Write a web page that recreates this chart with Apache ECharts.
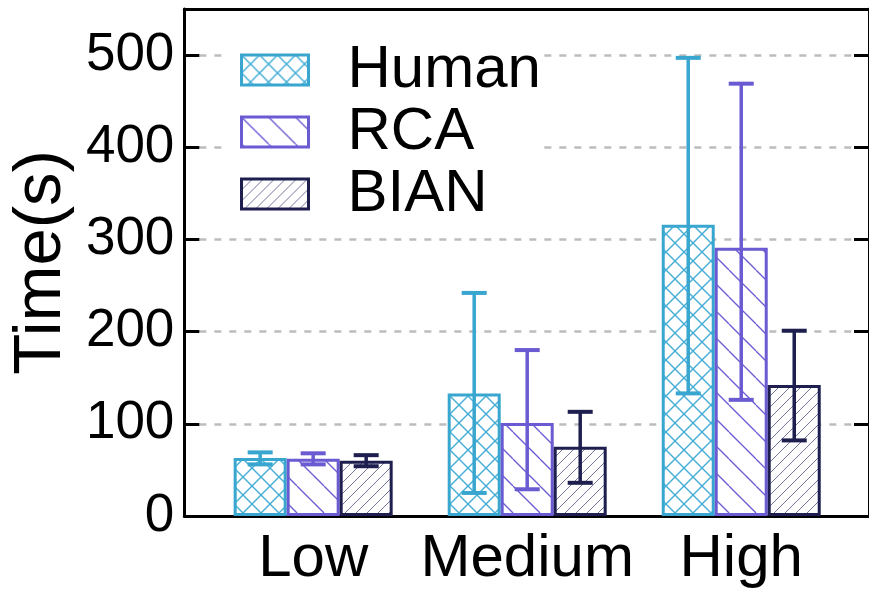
<!DOCTYPE html>
<html>
<head>
<meta charset="utf-8">
<script src="https://cdn.jsdelivr.net/npm/echarts@6.0.0/dist/echarts.min.js"></script>
<style>
  html, body { margin: 0; padding: 0; background: #fff; }
  #chart { width: 869px; height: 590px; }
</style>
</head>
<body>
<div id="chart"></div>
<script>
// 数据
const categories = ['Low', 'Medium', 'High'];
const seriesNames = ['Human', 'RCA', 'BIAN'];
const humanMean = [63, 133, 316];
const humanLow  = [56, 25, 133];
const humanHigh = [69, 242, 497];
const rcaMean = [62, 101, 291];
const rcaLow  = [56, 29, 126];
const rcaHigh = [68, 180, 469];
const bianMean = [60, 75, 142];
const bianLow  = [54, 36, 82];
const bianHigh = [66, 113, 201];

const colors = ['#38a6cf', '#6a5bd2', '#1e1f4f'];
const BAR_W = 53;

// 斜线填充
function hatch(size, lineColor, dirs, lw) {
  const c = document.createElement('canvas');
  c.width = size; c.height = size;
  const ctx = c.getContext('2d');
  ctx.fillStyle = '#fff';
  ctx.fillRect(0, 0, size, size);
  ctx.strokeStyle = lineColor;
  ctx.lineWidth = lw;
  dirs.forEach(d => {
    for (let k = -1; k <= 1; k++) {
      ctx.beginPath();
      if (d === '\\') {
        ctx.moveTo(k * size, 0);
        ctx.lineTo(k * size + size, size);
      } else {
        ctx.moveTo(k * size, size);
        ctx.lineTo(k * size + size, 0);
      }
      ctx.stroke();
    }
  });
  return { image: c, repeat: 'repeat' };
}

const patterns = [
  hatch(18, '#45aed5', ['\\', '/'], 1.4),
  hatch(27, '#6a5bd2', ['\\'], 1.3),
  hatch(11, '#74759a', ['/'], 1)
];

const means = [humanMean, rcaMean, bianMean];
const lows = [humanLow, rcaLow, bianLow];
const highs = [humanHigh, rcaHigh, bianHigh];

const series = [];
seriesNames.forEach((name, i) => {
  series.push({
    name: name,
    type: 'bar',
    barWidth: BAR_W,
    barGap: '0%',
    z: 2,
    itemStyle: {
      color: patterns[i],
      borderColor: colors[i],
      borderWidth: 3
    },
    data: means[i].map((v, j) => [j, v])
  });
});
// 误差线
seriesNames.forEach((name, i) => {
  series.push({
    name: name + '_err',
    type: 'custom',
    z: 5,
    renderItem: function (params, api) {
      const x = api.value(0);
      const lo = api.coord([x, api.value(1)]);
      const hi = api.coord([x, api.value(2)]);
      const cx = lo[0] + (i - 1) * BAR_W;
      const hw = 12.5;
      const st = { stroke: colors[i], lineWidth: 3.5 };
      const cap = { stroke: colors[i], lineWidth: 4 };
      return {
        type: 'group',
        children: [
          { type: 'line', shape: { x1: cx, y1: lo[1], x2: cx, y2: hi[1] }, style: st },
          { type: 'line', shape: { x1: cx - hw, y1: lo[1], x2: cx + hw, y2: lo[1] }, style: cap },
          { type: 'line', shape: { x1: cx - hw, y1: hi[1], x2: cx + hw, y2: hi[1] }, style: cap }
        ]
      };
    },
    data: lows[i].map((v, j) => [j, v, highs[i][j]])
  });
});

const FONT = 'Liberation Sans';
const chart = echarts.init(document.getElementById('chart'));
chart.setOption({
  animation: false,
  backgroundColor: '#fff',
  textStyle: { fontFamily: FONT },
  grid: { left: 183, right: -5, top: 9, bottom: 74 },
  legend: {
    data: seriesNames,
    orient: 'vertical',
    icon: 'rect',
    left: 228,
    top: 30,
    itemWidth: 67,
    itemHeight: 30,
    itemGap: 2,
    padding: [10, 0, 10, 12],
    backgroundColor: '#fff',
    itemStyle: { borderWidth: 3 },
    textStyle: { fontSize: 60, color: '#000', fontFamily: FONT, padding: [0, 0, 0, 34] }
  },
  xAxis: [{
    type: 'value',
    min: -0.602,
    max: 2.597,
    axisLine: { show: true, onZero: false, lineStyle: { color: '#000', width: 3 } },
    axisTick: { show: false },
    splitLine: { show: false },
    axisLabel: {
      customValues: [0, 1, 2],
      formatter: v => categories[Math.round(v)],
      fontSize: 60,
      color: '#000',
      margin: 13,
      fontFamily: FONT
    }
  }, {
    type: 'value',
    position: 'top',
    min: -0.602,
    max: 2.597,
    axisLine: { show: true, onZero: false, lineStyle: { color: '#000', width: 3 } },
    axisTick: { show: false },
    axisLabel: { show: false },
    splitLine: { show: false }
  }],
  yAxis: [{
    type: 'value',
    min: 0,
    max: 550,
    interval: 100,
    name: 'Time(s)',
    nameLocation: 'middle',
    nameGap: 102,
    nameTextStyle: { fontSize: 67, color: '#000', fontFamily: FONT },
    axisLine: { show: true, onZero: false, lineStyle: { color: '#000', width: 3 } },
    axisTick: { show: true, inside: true, length: 15, lineStyle: { color: '#000', width: 3 } },
    axisLabel: { fontSize: 53, color: '#000', margin: 10, fontFamily: FONT },
    splitLine: { show: true, lineStyle: { color: '#bdbdbd', width: 2.5, type: [7, 8] } }
  }, {
    type: 'value',
    position: 'right',
    min: 0,
    max: 550,
    interval: 100,
    axisLine: { show: true, onZero: false, lineStyle: { color: '#000', width: 3 } },
    axisTick: { show: true, inside: true, length: 15, lineStyle: { color: '#000', width: 3 } },
    axisLabel: { show: false },
    splitLine: { show: false }
  }],
  series: series
});
</script>
</body>
</html>
